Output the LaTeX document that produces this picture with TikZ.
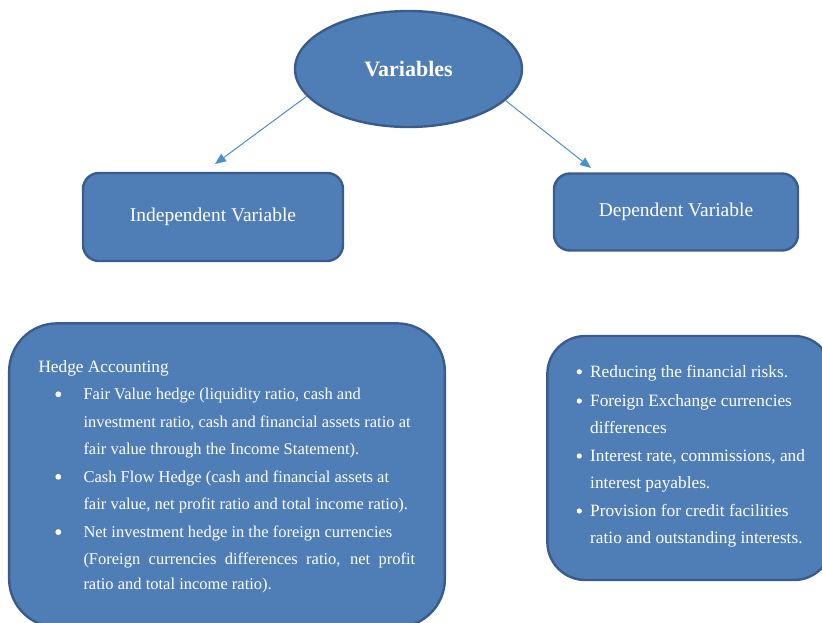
\documentclass[tikz,border=0pt]{standalone}
\usepackage{fontspec}
\setmainfont{Liberation Serif}
\usetikzlibrary{shapes.geometric,arrows.meta}
\definecolor{boxfill}{HTML}{4F7EB7}
\definecolor{boxline}{HTML}{3A5C8C}
\definecolor{arrowc}{HTML}{4A8FD0}
\tikzset{
  panel/.style={draw=boxline, line width=2.4pt, fill=boxfill, inner sep=0pt, text=white},
  lt/.style={anchor=base west, inner sep=0pt, text=white, font=\fontsize{16.5}{20}\selectfont},
  rt/.style={anchor=base west, inner sep=0pt, text=white, font=\fontsize{17.3}{21}\selectfont},
  lb/.style={circle, fill=white, inner sep=0pt, minimum size=5.8pt},
  rb/.style={circle, fill=white, inner sep=0pt, minimum size=5.2pt},
  arr/.style={draw=arrowc, line width=1pt, -{Triangle[length=11pt,width=9pt]}},
}
\begin{document}
\begin{tikzpicture}[x=1pt,y=-1pt]
\useasboundingbox (0,0) rectangle (822,622);
\clip (0,0) rectangle (822,622);
% top
\node[panel, ellipse, minimum width=227pt, minimum height=116pt,
      font=\fontsize{22}{26}\selectfont\bfseries] (var) at (408.5,69) {\raisebox{-2pt}{Variables}};
\node[panel, rounded corners=16pt, minimum width=260pt, minimum height=88pt,
      font=\fontsize{19.5}{23}\selectfont] (ind) at (213,217) {\raisebox{-2pt}{Independent Variable}};
\node[panel, rounded corners=16pt, minimum width=244pt, minimum height=77pt,
      font=\fontsize{19.5}{23}\selectfont] (dep) at (676,212) {\raisebox{-2pt}{Dependent Variable}};
\coordinate (indtip) at (215,164);
\coordinate (deptip) at (591,168);
\draw[arr] (var.195) -- (indtip);
\draw[arr] (var.342) -- (deptip);
% bottom boxes
\node[panel, rounded corners=48pt, minimum width=435.7pt, minimum height=303.7pt] (hedge) at (227,475.2) {};
\node[panel, rounded corners=38pt, minimum width=284.7pt, minimum height=244pt] (depl) at (689.7,458) {};
% left text
\node[lt, font=\fontsize{17.3}{21}\selectfont] (h0) at (38.3,372.5) {Hedge Accounting};
\node[lb] (b1) at (58.3,394.3) {};
\node[lt] (h1) at (83.3,399.5) {Fair Value hedge (liquidity ratio, cash and};
\node[lt] (h2) at (83.3,427) {investment ratio, cash and financial assets ratio at};
\node[lt] (h3) at (83.3,454.5) {fair value through the Income Statement).};
\node[lb] (b2) at (58.3,476.8) {};
\node[lt] (h4) at (83.3,482) {Cash Flow Hedge (cash and financial assets at};
\node[lb] (b3) at (58.3,532.1) {};
\node[lt] (h5) at (83.3,509.5) {fair value, net profit ratio and total income ratio).};
\node[lt] (h6) at (83.3,537.3) {Net investment hedge in the foreign currencies};
\node[lt] (h7) at (83.3,564) {\makebox[331.7pt][s]{(Foreign currencies differences ratio, net profit}};
\node[lt] (h8) at (83.3,589.5) {ratio and total income ratio).};
% right text
\node[rb] (c1) at (579.3,371.8) {};
\node[rt] (r1) at (590,377.3) {Reducing the financial risks.};
\node[rb] (c2) at (579.3,401) {};
\node[rt] (r2) at (590,406.5) {Foreign Exchange currencies};
\node[rt] (r3) at (590,433) {differences};
\node[rb] (c3) at (579.3,456) {};
\node[rt] (r4) at (590,461.5) {Interest rate, commissions, and};
\node[rt] (r5) at (590,488) {interest payables.};
\node[rb] (c4) at (579.3,511) {};
\node[rt] (r6) at (590,516.5) {Provision for credit facilities};
\node[rt] (r7) at (590,543) {ratio and outstanding interests.};
\end{tikzpicture}
\end{document}
